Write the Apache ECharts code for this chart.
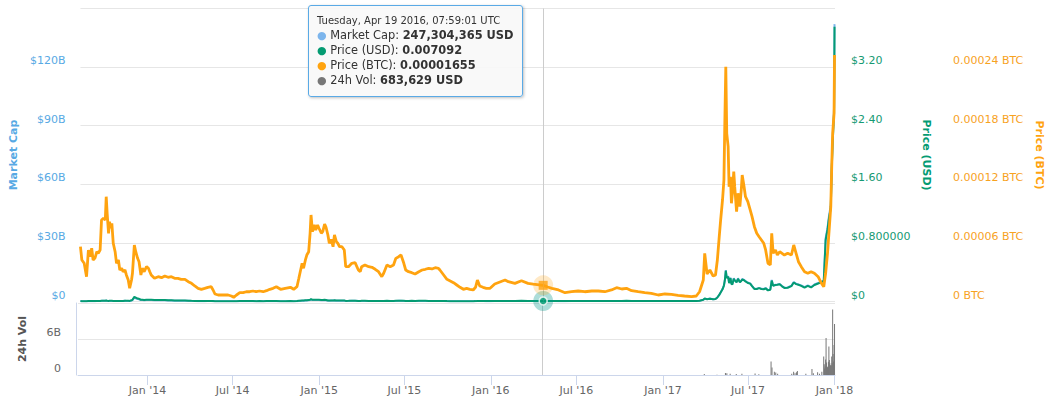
<!DOCTYPE html>
<html>
<head>
<meta charset="utf-8">
<script src="https://cdn.jsdelivr.net/npm/echarts@6/dist/echarts.min.js"></script>
<style>
html,body{margin:0;padding:0;background:#fff;}
#chart{width:1056px;height:412px;}
</style>
</head>
<body>
<div id="chart"></div>
<script>
// ---------- DATA ----------
const dates = [
'2013-08-06','2013-08-09','2013-08-14','2013-08-19','2013-08-23','2013-08-27','2013-08-30','2013-09-02','2013-09-06','2013-09-10',
'2013-09-13','2013-09-17','2013-09-20','2013-09-24','2013-09-28','2013-09-30','2013-10-02','2013-10-05','2013-10-07','2013-10-10',
'2013-10-12','2013-10-15','2013-10-19','2013-10-22','2013-10-26','2013-10-29','2013-11-02','2013-11-05','2013-11-09','2013-11-12',
'2013-11-16','2013-11-19','2013-11-23','2013-11-25','2013-11-29','2013-12-02','2013-12-06','2013-12-09','2013-12-13','2013-12-16',
'2013-12-20','2013-12-25','2013-12-29',
'2014-01-01','2014-01-04','2014-01-11','2014-01-19','2014-01-26','2014-02-02','2014-02-09','2014-02-16','2014-02-23','2014-03-02',
'2014-03-09','2014-03-17','2014-03-24','2014-03-31','2014-04-07','2014-04-14','2014-04-21','2014-04-28','2014-05-05','2014-05-12',
'2014-05-16','2014-05-20','2014-05-27','2014-06-03','2014-06-10','2014-06-17','2014-06-24','2014-06-29','2014-07-05','2014-07-12',
'2014-07-19','2014-07-26','2014-08-02','2014-08-09','2014-08-16','2014-08-23','2014-08-31','2014-09-07','2014-09-14','2014-09-21',
'2014-09-28','2014-10-07','2014-10-17','2014-10-28','2014-11-04','2014-11-11','2014-11-15','2014-11-18','2014-11-22','2014-11-25',
'2014-11-29','2014-12-02','2014-12-06','2014-12-09','2014-12-11','2014-12-14','2014-12-18','2014-12-21','2014-12-25','2014-12-28',
'2015-01-02','2015-01-05','2015-01-09','2015-01-12','2015-01-16','2015-01-19','2015-01-23','2015-01-27','2015-01-30','2015-02-03',
'2015-02-06','2015-02-10','2015-02-15','2015-02-20','2015-02-23','2015-03-01','2015-03-08','2015-03-15','2015-03-22','2015-03-26',
'2015-03-29','2015-04-05','2015-04-13','2015-04-20','2015-04-27','2015-05-04','2015-05-11','2015-05-15','2015-05-22','2015-05-29',
'2015-06-05','2015-06-10','2015-06-16','2015-06-21','2015-06-27','2015-07-01','2015-07-07','2015-07-14','2015-07-21','2015-07-29',
'2015-08-05','2015-08-12','2015-08-19','2015-08-26','2015-09-02','2015-09-09','2015-09-12','2015-09-20','2015-09-27','2015-10-04',
'2015-10-11','2015-10-18','2015-10-25','2015-11-01','2015-11-08','2015-11-15','2015-11-22','2015-11-27','2015-12-01','2015-12-06',
'2015-12-13','2015-12-20','2015-12-28',
'2016-01-07','2016-01-29','2016-02-05','2016-02-19','2016-03-04','2016-03-18','2016-03-29','2016-04-19T07:59:01Z','2016-04-29','2016-05-08',
'2016-05-22','2016-06-05','2016-06-19','2016-07-03','2016-07-17','2016-08-01','2016-08-15','2016-08-29','2016-09-12','2016-09-23',
'2016-10-04','2016-10-14','2016-10-25','2016-11-08','2016-11-22','2016-12-06','2016-12-21',
'2017-01-04','2017-01-18','2017-02-01','2017-02-15','2017-03-02','2017-03-12','2017-03-19','2017-03-27','2017-03-30','2017-04-04',
'2017-04-10','2017-04-17','2017-04-22','2017-04-26','2017-04-30','2017-05-03','2017-05-07','2017-05-10','2017-05-12','2017-05-14',
'2017-05-16','2017-05-19','2017-05-21','2017-05-24','2017-05-26','2017-05-28','2017-05-31','2017-06-02','2017-06-06','2017-06-09',
'2017-06-13','2017-06-16','2017-06-18','2017-06-22','2017-06-25','2017-06-30','2017-07-05','2017-07-09','2017-07-14','2017-07-19',
'2017-07-24','2017-07-29','2017-08-03','2017-08-07','2017-08-12','2017-08-17','2017-08-20','2017-08-23','2017-08-28','2017-09-01',
'2017-09-06','2017-09-11','2017-09-16','2017-09-23','2017-10-01','2017-10-06','2017-10-11','2017-10-16','2017-10-22','2017-10-29',
'2017-11-05','2017-11-12','2017-11-19','2017-11-27','2017-12-04','2017-12-09','2017-12-13','2017-12-17','2017-12-20','2017-12-24',
'2017-12-26','2017-12-28','2017-12-31','2018-01-01'
];

// Price in BTC, expressed in satoshi (1e-8 BTC)
const priceBtcSat = [
5611,4250,3910,2540,5270,4590,5450,4250,4450,5100,
4935,5270,8345,8520,8345,10730,9030,6985,8170,7500,
8010,5960,5100,3910,4250,3225,3400,3050,3225,2715,
2200,1350,2200,2890,5785,5100,4420,4075,2715,3400,
3050,3565,3400,
3050,2715,2375,2540,2440,2610,2480,2540,2375,2375,
2270,2270,2030,1860,1590,1350,1250,1350,1455,1515,
1180,770,665,665,665,665,563,430,665,900,
900,1000,1000,1075,1000,1075,1000,1105,1250,1350,
1515,1250,1350,1455,1250,1515,2375,3050,3910,3400,
4250,4760,5100,6985,8860,7150,7835,7320,7835,7500,
6985,7150,7935,7600,6810,5960,6370,5610,6810,6125,
5960,5610,5610,5270,3565,3565,3910,3975,3225,3050,
3565,3740,3565,3500,3300,3050,2540,2890,3740,3565,
3740,4420,4590,4760,3910,3225,3050,2950,2815,3050,
3225,3300,3400,3330,3460,3400,3225,2715,2270,2100,
1925,1690,1455,1250,1350,1250,1180,1455,2200,1590,
1455,1350,1350,
1790,2200,2030,1860,2130,1860,1790,1655,1485,1350,
1180,900,1000,1075,1000,1075,1075,1000,1180,1410,
1280,1350,1105,1000,900,840,665,
770,735,635,563,490,563,1000,2200,4935,2815,
3225,2610,2715,4250,6635,8345,10395,12440,18585,24040,
17220,15850,11755,12780,10055,11080,13290,11755,9195,11080,
9710,11420,12955,11755,10730,10220,9370,8685,7660,6985,
6635,6300,5960,5275,3910,3740,6985,4935,5275,4760,
5100,4935,4760,4935,4760,5785,4935,4075,3565,3050,
2890,3050,2890,2540,1865,1515,2890,4935,6985,9710,
13805,17220,19270,25240
];

// Price in USD
const priceUsd = [
0.0060,0.0045,0.0043,0.0029,0.0063,0.0056,0.0071,0.0054,0.0056,0.0066,
0.0066,0.0069,0.0104,0.0107,0.0108,0.0139,0.0099,0.0084,0.0100,0.0094,
0.0103,0.0083,0.0079,0.0072,0.0077,0.0065,0.0070,0.0073,0.0106,0.0096,
0.0097,0.0081,0.0176,0.0231,0.0636,0.0536,0.0398,0.0367,0.0239,0.0238,
0.0198,0.0242,0.0252,
0.0235,0.0233,0.0214,0.0216,0.0215,0.0217,0.0169,0.0157,0.0143,0.0133,
0.0143,0.0141,0.0118,0.0086,0.0072,0.0058,0.0061,0.0059,0.0063,0.0067,
0.0053,0.0038,0.0039,0.0044,0.0043,0.0041,0.0033,0.0026,0.0042,0.0057,
0.0056,0.0060,0.0059,0.0063,0.0050,0.0055,0.0048,0.0053,0.0059,0.0054,
0.0057,0.0041,0.0051,0.0052,0.0041,0.0055,0.0093,0.0116,0.0139,0.0128,
0.0159,0.0181,0.0191,0.0244,0.0306,0.0250,0.0251,0.0242,0.0251,0.0240,
0.0220,0.0197,0.0230,0.0201,0.0143,0.0125,0.0150,0.0151,0.0160,0.0138,
0.0131,0.0123,0.0132,0.0129,0.0085,0.0093,0.0108,0.0113,0.0085,0.0076,
0.0087,0.0095,0.0080,0.0079,0.0076,0.0073,0.0062,0.0068,0.0090,0.0084,
0.0084,0.0101,0.0115,0.0117,0.0098,0.0083,0.0082,0.0086,0.0078,0.0088,
0.0091,0.0087,0.0077,0.0074,0.0079,0.0081,0.0076,0.0063,0.0053,0.0050,
0.0048,0.0044,0.0041,0.0041,0.0050,0.0040,0.0038,0.0052,0.0080,0.0062,
0.0063,0.0060,0.0057,
0.0082,0.0083,0.0078,0.0078,0.0087,0.0076,0.0074,0.007092,0.0068,0.0062,
0.0052,0.0052,0.0076,0.0075,0.0068,0.0065,0.0061,0.0057,0.0072,0.0085,
0.0078,0.0086,0.0072,0.0071,0.0066,0.0064,0.0055,
0.0068,0.0065,0.0063,0.0057,0.0061,0.0069,0.0102,0.0229,0.0400,0.0320,
0.0390,0.0310,0.0340,0.0550,0.0900,0.124,0.166,0.218,0.290,0.420,
0.320,0.340,0.250,0.320,0.240,0.233,0.310,0.288,0.262,0.310,
0.262,0.280,0.300,0.290,0.274,0.253,0.244,0.210,0.171,0.170,
0.182,0.171,0.167,0.179,0.152,0.161,0.286,0.215,0.225,0.228,
0.235,0.207,0.185,0.188,0.210,0.260,0.237,0.228,0.214,0.189,
0.214,0.192,0.225,0.246,0.265,0.280,0.840,0.980,1.13,1.28,
1.80,2.16,2.57,3.75
];

// Market cap, billions of USD
const marketCapB = [
0.186,0.140,0.133,0.090,0.195,0.174,0.220,0.167,0.174,0.205,
0.205,0.214,0.322,0.332,0.335,0.431,0.307,0.260,0.310,0.291,
0.319,0.257,0.245,0.223,0.239,0.202,0.217,0.226,0.329,0.298,
0.301,0.251,0.546,0.716,1.972,1.662,1.234,1.138,0.741,0.738,
0.614,0.750,0.781,
0.729,0.722,0.663,0.670,0.667,0.673,0.524,0.487,0.443,0.412,
0.443,0.437,0.366,0.267,0.223,0.180,0.189,0.183,0.195,0.208,
0.164,0.118,0.121,0.136,0.133,0.127,0.102,0.081,0.130,0.177,
0.174,0.186,0.183,0.195,0.155,0.171,0.149,0.164,0.183,0.167,
0.177,0.127,0.158,0.161,0.127,0.171,0.288,0.360,0.431,0.397,
0.493,0.561,0.592,0.756,0.949,0.775,0.778,0.750,0.778,0.744,
0.695,0.623,0.727,0.635,0.452,0.395,0.474,0.477,0.506,0.436,
0.414,0.389,0.417,0.408,0.269,0.294,0.341,0.357,0.269,0.240,
0.275,0.300,0.253,0.250,0.240,0.231,0.196,0.215,0.284,0.265,
0.265,0.319,0.363,0.370,0.310,0.262,0.259,0.272,0.246,0.278,
0.288,0.275,0.243,0.234,0.250,0.256,0.240,0.199,0.167,0.158,
0.152,0.139,0.130,0.130,0.158,0.126,0.120,0.164,0.253,0.196,
0.199,0.190,0.180,
0.276,0.280,0.263,0.265,0.298,0.264,0.258,0.247304365,0.237,0.217,
0.182,0.182,0.267,0.264,0.240,0.230,0.216,0.202,0.256,0.303,
0.279,0.308,0.258,0.255,0.237,0.230,0.198,
0.246,0.235,0.228,0.208,0.223,0.252,0.373,0.838,1.46,1.22,
1.49,1.18,1.30,2.10,3.44,4.74,6.35,8.33,11.1,16.1,
12.3,13.0,9.6,12.2,9.2,8.9,11.9,11.0,10.0,11.9,
10.0,10.7,11.5,11.1,10.5,9.7,9.3,8.0,6.5,6.5,
7.0,6.5,6.4,6.9,5.8,6.2,11.0,8.2,8.6,8.7,
9.0,7.9,7.1,7.2,8.1,10.0,9.1,8.7,8.2,7.3,
8.2,7.4,8.7,9.5,10.2,10.8,32.4,37.8,43.6,49.5,
69.6,83.6,99.5,142.0
];

// 24h volume, billions of USD
const volDates = [
'2013-08-06','2013-10-01','2013-12-01','2014-03-01','2014-06-01','2014-09-01','2014-12-11','2015-03-01','2015-06-01','2015-09-01',
'2015-12-01','2016-02-01','2016-04-19T07:59:01Z','2016-07-01','2016-10-01','2017-01-04','2017-03-19','2017-03-30','2017-04-26','2017-05-14',
'2017-05-17','2017-05-24','2017-06-06','2017-06-18','2017-07-16','2017-07-24','2017-08-19','2017-08-21','2017-08-26','2017-08-29',
'2017-09-02','2017-10-02','2017-10-06','2017-10-09','2017-10-12','2017-10-14','2017-11-01','2017-11-14','2017-11-17','2017-11-26',
'2017-11-30','2017-12-05','2017-12-09','2017-12-10','2017-12-11','2017-12-12','2017-12-13','2017-12-14','2017-12-15','2017-12-16',
'2017-12-17','2017-12-18','2017-12-19','2017-12-20','2017-12-21','2017-12-22','2017-12-23','2017-12-24','2017-12-25','2017-12-26',
'2017-12-27','2017-12-28','2017-12-29','2017-12-30','2017-12-31','2018-01-01'
];
const volumeB = [
0.00005,0.0002,0.0015,0.0004,0.0001,0.0002,0.0021,0.0004,0.0005,0.0006,
0.0016,0.0009,0.000683629,0.0009,0.0011,0.0012,0.012,0.15,0.06,0.32,
0.28,0.22,0.18,0.20,0.25,0.12,2.24,1.23,0.55,0.40,
0.20,0.20,0.55,0.30,0.45,0.67,0.20,1.00,0.30,0.45,
0.20,0.55,3.07,1.80,1.10,1.40,2.60,6.17,2.10,1.23,
1.30,1.40,2.20,4.76,2.50,1.96,1.50,1.68,1.60,3.07,
2.00,10.9,3.50,2.24,5.00,8.50
];

// Tick labels
const xTickDates = ['2014-01-01','2014-07-01','2015-01-01','2015-07-01','2016-01-01','2016-07-01','2017-01-01','2017-07-01','2018-01-01'];
const xTickLabels = ["Jan '14","Jul '14","Jan '15","Jul '15","Jan '16","Jul '16","Jan '17","Jul '17","Jan '18"];
const mcapTickLabels = ['$0','$30B','$60B','$90B','$120B'];
const usdTickLabels = ['$0','$0.800000','$1.60','$2.40','$3.20'];
const btcTickLabels = ['0 BTC','0.00006 BTC','0.00012 BTC','0.00018 BTC','0.00024 BTC'];
const volTickLabels = ['0','6B'];

const hoverDate = '2016-04-19T07:59:01Z';

// ---------- BUILD ----------
function ts(s){ return s.length === 10 ? Date.parse(s + 'T00:00:00Z') : Date.parse(s); }
const T = dates.map(ts);
const mcapData = T.map((t,i)=>[t, marketCapB[i]]);
const usdData = T.map((t,i)=>[t, priceUsd[i]]);
const btcData = T.map((t,i)=>[t, priceBtcSat[i]]);
const volData = volDates.map((d,i)=>[ts(d), volumeB[i]]);
const xTickTs = xTickDates.map(ts);
const hi = dates.indexOf(hoverDate);
const hvi = volDates.indexOf(hoverDate);
const hoverTs = ts(hoverDate);

const C_MCAP = '#7cb5ec', C_MCAP_TXT = '#57a9e4';
const C_USD = '#049b72', C_USD_TXT = '#169a73';
const C_BTC = '#ffa30f', C_BTC_TXT = '#f7a21f';
const FONT = 'DejaVu Sans';

function fmtHeader(t){
  const d = new Date(t);
  const wd = ['Sunday','Monday','Tuesday','Wednesday','Thursday','Friday','Saturday'][d.getUTCDay()];
  const mo = ['Jan','Feb','Mar','Apr','May','Jun','Jul','Aug','Sep','Oct','Nov','Dec'][d.getUTCMonth()];
  const p = n => String(n).padStart(2,'0');
  return wd + ', ' + mo + ' ' + d.getUTCDate() + ' ' + d.getUTCFullYear() + ', ' +
    p(d.getUTCHours()) + ':' + p(d.getUTCMinutes()) + ':' + p(d.getUTCSeconds()) + ' UTC';
}
function tooltipHtml(){
  const mc = Math.round(marketCapB[hi]*1e9).toLocaleString('en-US');
  const usd = String(priceUsd[hi]);
  const btc = (priceBtcSat[hi]/1e8).toFixed(8);
  const vol = Math.round(volumeB[hvi]*1e9).toLocaleString('en-US');
  const row = (c, name, val) => '<div style="line-height:15px;font-size:11.4px;white-space:nowrap"><span style="color:'+c+';font-size:11px">\u25CF</span> '+name+': <b>'+val+'</b></div>';
  return '<div style="font-size:10px;line-height:14px;white-space:nowrap">'+fmtHeader(hoverTs)+'</div>' +
    row(C_MCAP, 'Market Cap', mc + ' USD') +
    row(C_USD, 'Price (USD)', usd) +
    row(C_BTC, 'Price (BTC)', btc) +
    row('#777777', '24h Vol', vol + ' USD');
}

const chart = echarts.init(document.getElementById('chart'), null, {renderer:'svg'});
const xMin = ts('2013-08-06'), xMax = ts('2018-01-02');
const splitLine = {show:true, lineStyle:{color:'#e6e6e6', width:1}};
const labelBase = {fontFamily:FONT, fontSize:11, verticalAlign:'bottom', lineHeight:13};

const option = {
  animation:false,
  textStyle:{fontFamily:FONT},
  grid:[
    {left:78, right:221, top:8.5, height:293},
    {left:78, right:221, top:303, height:72}
  ],
  tooltip:{
    trigger:'item', triggerOn:'none', alwaysShowContent:true, position:[308,5],
    backgroundColor:'rgba(248,248,248,0.92)', borderColor:'#5aaae6', borderWidth:1,
    padding:[8,8], transitionDuration:0,
    textStyle:{fontFamily:FONT, fontSize:12, color:'#333333'},
    extraCssText:'box-shadow:1px 1px 3px rgba(0,0,0,0.25);border-radius:3px;',
    formatter: tooltipHtml
  },
  xAxis:[
    {type:'value', gridIndex:0, min:xMin, max:xMax,
     axisLine:{show:false}, axisTick:{show:false}, axisLabel:{show:false}, splitLine:{show:false}},
    {type:'value', gridIndex:1, min:xMin, max:xMax,
     axisLine:{show:true, onZero:false, lineStyle:{color:'#ccd6eb', width:1}},
     axisTick:{show:true, customValues:xTickTs, length:10, lineStyle:{color:'#ccd6eb'}},
     axisLabel:{show:true, customValues:xTickTs, color:'#666666', fontFamily:FONT, fontSize:11, margin:10,
       formatter:(v)=>{ const k = xTickTs.indexOf(v); return k>=0 ? xTickLabels[k] : ''; }},
     splitLine:{show:false}}
  ],
  yAxis:[
    {type:'value', gridIndex:0, position:'left', min:0, max:150, interval:30,
     name:'Market Cap', nameLocation:'middle', nameGap:60, nameRotate:90,
     nameTextStyle:{color:C_MCAP_TXT, fontWeight:'bold', fontSize:11, fontFamily:FONT},
     axisLine:{show:false}, axisTick:{show:false}, splitLine:splitLine,
     axisLabel:Object.assign({}, labelBase, {color:C_MCAP_TXT, margin:15, showMaxLabel:false,
       formatter:(v)=>mcapTickLabels[Math.round(v/30)] || ''})},
    {type:'value', gridIndex:0, position:'right', min:0, max:4, interval:0.8,
     name:'Price (USD)', nameLocation:'middle', nameGap:85, nameRotate:-90,
     nameTextStyle:{color:C_USD, fontWeight:'bold', fontSize:11, fontFamily:FONT},
     axisLine:{show:false}, axisTick:{show:false}, splitLine:{show:false},
     axisLabel:Object.assign({}, labelBase, {color:C_USD_TXT, margin:16, showMaxLabel:false,
       formatter:(v)=>usdTickLabels[Math.round(v/0.8)] || ''})},
    {type:'value', gridIndex:0, position:'right', offset:102, min:0, max:30000, interval:6000,
     name:'Price (BTC)', nameLocation:'middle', nameGap:96, nameRotate:-90,
     nameTextStyle:{color:C_BTC, fontWeight:'bold', fontSize:11, fontFamily:FONT},
     axisLine:{show:false}, axisTick:{show:false}, splitLine:{show:false},
     axisLabel:Object.assign({}, labelBase, {color:C_BTC_TXT, margin:16, showMaxLabel:false,
       formatter:(v)=>btcTickLabels[Math.round(v/6000)] || ''})},
    {type:'value', gridIndex:1, position:'left', offset:2, min:0, max:12, interval:6,
     name:'24h Vol', nameLocation:'middle', nameGap:48, nameRotate:90,
     nameTextStyle:{color:'#555555', fontWeight:'bold', fontSize:11, fontFamily:FONT},
     axisLine:{show:true, lineStyle:{color:'#ccd6eb'}}, axisTick:{show:false}, splitLine:splitLine,
     axisLabel:Object.assign({}, labelBase, {color:'#666666', margin:15, showMaxLabel:false,
       formatter:(v)=>volTickLabels[Math.round(v/6)] || ''})}
  ],
  series:[
    {name:'Market Cap', type:'line', xAxisIndex:0, yAxisIndex:0, data:mcapData, symbol:'none',
     lineStyle:{color:C_MCAP, width:2}, itemStyle:{color:C_MCAP}, z:1, silent:true},
    {name:'Price (USD)', type:'line', xAxisIndex:0, yAxisIndex:1, data:usdData, symbol:'none',
     lineStyle:{color:C_USD, width:2}, itemStyle:{color:C_USD}, z:2, silent:true},
    {name:'Price (BTC)', type:'line', xAxisIndex:0, yAxisIndex:2, data:btcData, symbol:'none',
     lineStyle:{color:C_BTC, width:2.8}, itemStyle:{color:C_BTC}, z:3, silent:true,
     markLine:{symbol:'none', silent:true, label:{show:false}, animation:false,
       lineStyle:{color:'#cccccc', width:1, type:'solid'}, data:[{xAxis:hoverTs}]}},
    {name:'24h Vol', type:'bar', xAxisIndex:1, yAxisIndex:3, data:volData, barWidth:1,
     itemStyle:{color:'#777777'}, silent:true,
     markLine:{symbol:'none', silent:true, label:{show:false}, animation:false,
       lineStyle:{color:'#cccccc', width:1, type:'solid'}, data:[{xAxis:hoverTs}]}},
    {type:'scatter', xAxisIndex:0, yAxisIndex:1, data:[[hoverTs, priceUsd[hi]]], symbol:'circle', symbolSize:20,
     itemStyle:{color:'rgba(0,150,136,0.4)'}, z:5, silent:true, emphasis:{disabled:true}},
    {type:'scatter', xAxisIndex:0, yAxisIndex:1, data:[[hoverTs, priceUsd[hi]]], symbol:'circle', symbolSize:8,
     itemStyle:{color:C_USD, borderColor:'#ffffff', borderWidth:1.5}, z:6, silent:true, emphasis:{disabled:true}},
    {type:'scatter', xAxisIndex:0, yAxisIndex:2, data:[[hoverTs, priceBtcSat[hi]]], symbol:'circle', symbolSize:20,
     itemStyle:{color:'rgba(255,163,15,0.3)'}, z:5, silent:true, emphasis:{disabled:true}},
    {type:'scatter', xAxisIndex:0, yAxisIndex:2, data:[[hoverTs, priceBtcSat[hi]]], symbol:'rect', symbolSize:9,
     itemStyle:{color:C_BTC}, z:6, emphasis:{disabled:true}}
  ]
};
chart.setOption(option);
chart.dispatchAction({type:'showTip', seriesIndex:7, dataIndex:0});
</script>
</body>
</html>
